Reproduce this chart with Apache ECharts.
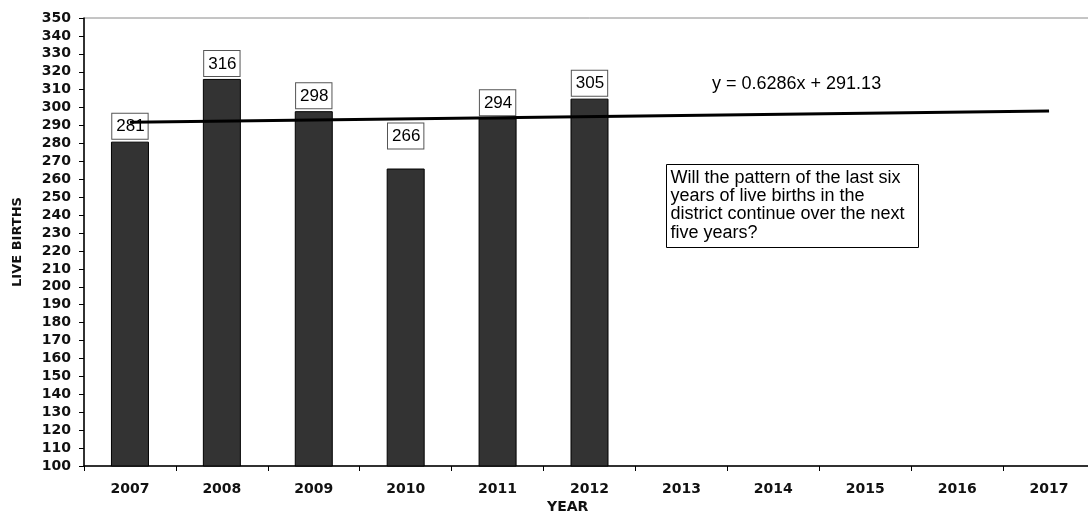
<!DOCTYPE html>
<html>
<head>
<meta charset="utf-8">
<script src="https://cdn.jsdelivr.net/npm/echarts@6/dist/echarts.min.js"></script>
<style>
  html, body { margin: 0; padding: 0; background: #fff; overflow: hidden; }
  #chart { width: 1100px; height: 514px; }
</style>
</head>
<body>
<div id="chart"></div>
<script>
// Years on the category axis
const years = ['2007', '2008', '2009', '2010', '2011', '2012', '2013', '2014', '2015', '2016', '2017'];
// Live births recorded per year
const births = [281, 316, 298, 266, 294, 305];
// Linear trend fitted to the births (x = 1 for 2007)
const trendSlope = 0.6286;
const trendIntercept = 291.13;
const trendX = [1, 11];
// Y axis range
const yMin = 100, yMax = 350, yStep = 10;

const AX_FONT = '"DejaVu Sans", Verdana, sans-serif';
const TXT_FONT = '"Liberation Sans", Arial, sans-serif';

const chart = echarts.init(document.getElementById('chart'), null, { renderer: 'canvas' });

const barData = births.map((v, i) => i === 3 ? { value: v, label: { distance: 20 } } : v);
const trendData = trendX.map(x => [x, trendSlope * x + trendIntercept]);

chart.setOption({
  animation: false,
  backgroundColor: '#ffffff',
  grid: {
    left: 84, top: 18, width: 1011, height: 448,
    show: true, borderColor: '#8a8a8a', borderWidth: 1, backgroundColor: 'transparent'
  },
  xAxis: [{
    type: 'category',
    data: years,
    boundaryGap: true,
    axisLine: { lineStyle: { color: '#000', width: 1.5 } },
    axisTick: { show: true, length: 5, lineStyle: { color: '#000' } },
    axisLabel: { color: '#111', fontFamily: AX_FONT, fontWeight: 'bold', fontSize: 14, margin: 16 },
    splitLine: { show: false }
  }, {
    type: 'value',
    min: 0.5, max: 11.5,
    show: false
  }],
  yAxis: {
    type: 'value',
    min: yMin, max: yMax, interval: yStep,
    axisLine: { show: true, lineStyle: { color: '#000', width: 1.5 } },
    axisTick: { show: true, length: 5, lineStyle: { color: '#000' } },
    axisLabel: { color: '#111', fontFamily: AX_FONT, fontWeight: 'bold', fontSize: 14, margin: 13 },
    splitLine: { show: false }
  },
  series: [{
    type: 'bar',
    data: barData,
    barWidth: 38,
    itemStyle: { color: '#333333', borderColor: '#000', borderWidth: 1 },
    label: {
      show: true,
      position: 'top',
      distance: 3,
      color: '#000',
      fontFamily: TXT_FONT,
      fontSize: 17,
      lineHeight: 18,
      backgroundColor: '#fff',
      borderColor: '#555',
      borderWidth: 1,
      padding: [4, 3, 3, 4]
    }
  }, {
    type: 'line',
    xAxisIndex: 1,
    data: trendData,
    symbol: 'none',
    lineStyle: { color: '#000', width: 3 },
    z: 5
  }],
  graphic: [{
    type: 'text',
    left: 712, top: 75,
    style: { text: 'y = 0.6286x + 291.13', font: '18px ' + TXT_FONT, fill: '#000' }
  }, {
    type: 'group',
    left: 666, top: 164,
    children: [{
      type: 'rect',
      shape: { x: 0, y: 0, width: 252, height: 83 },
      style: { fill: '#fff', stroke: '#000', lineWidth: 1 }
    }, {
      type: 'text',
      x: 4, y: 4,
      style: {
        text: 'Will the pattern of the last six\nyears of live births in the\ndistrict continue over the next\nfive years?',
        font: '18px ' + TXT_FONT,
        lineHeight: 18.3,
        fill: '#000'
      }
    }]
  }, {
    type: 'text',
    left: 547, top: 500,
    style: { text: 'YEAR', font: 'bold 14px ' + AX_FONT, fill: '#111' }
  }, {
    type: 'text',
    x: 18, y: 242,
    rotation: Math.PI / 2,
    style: {
      text: 'LIVE BIRTHS', font: 'bold 13px ' + AX_FONT, fill: '#111',
      align: 'center', verticalAlign: 'middle'
    }
  }]
});
</script>
</body>
</html>
